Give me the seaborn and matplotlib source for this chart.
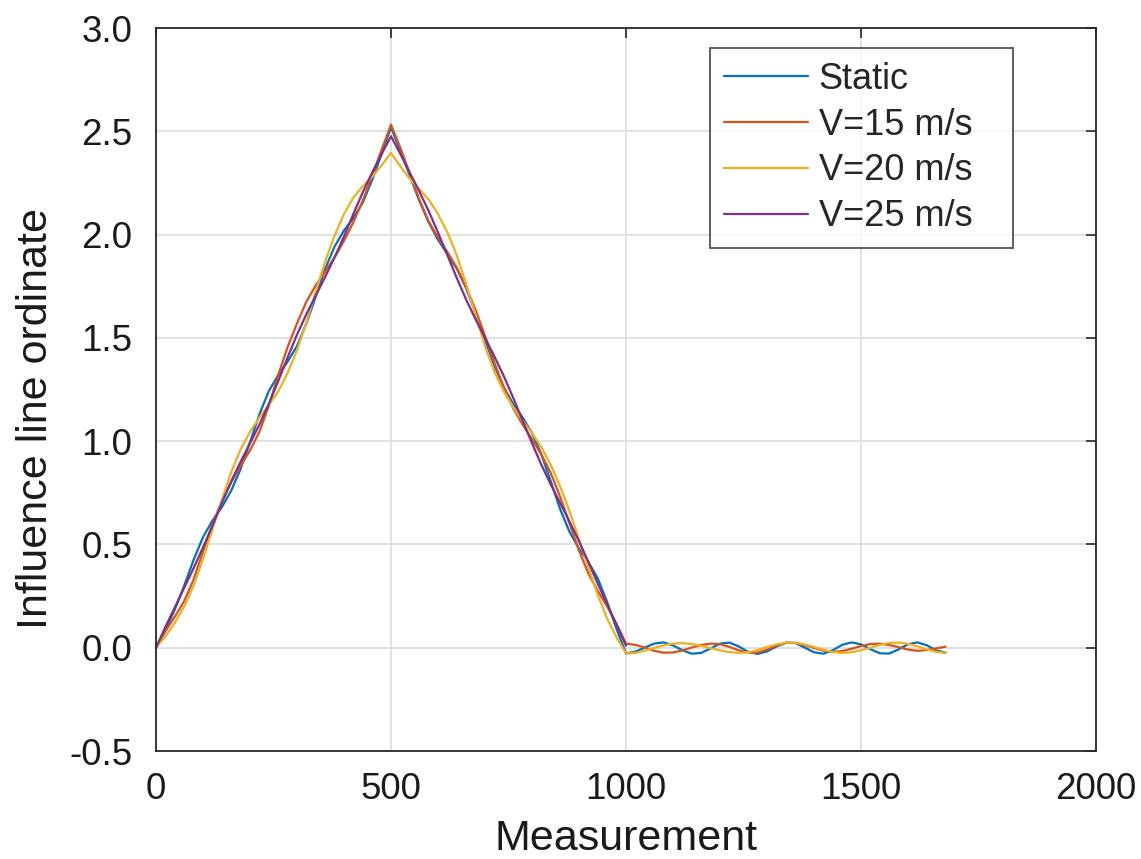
import numpy as np
import pandas as pd
import seaborn as sns
import matplotlib.pyplot as plt

# measurement index (sampled every 20)
x_loaded = list(range(0, 1001, 20))
x_full = list(range(0, 1681, 20))

static = [0.0, 0.085, 0.185, 0.30, 0.425, 0.535, 0.615, 0.68, 0.76, 0.865,
          0.995, 1.13, 1.242, 1.32, 1.385, 1.46, 1.57, 1.70, 1.835, 1.942,
          2.02, 2.08, 2.155, 2.265, 2.39, 2.52,
          2.405, 2.285, 2.165, 2.06, 1.975, 1.905, 1.835, 1.74, 1.62, 1.49,
          1.365, 1.26, 1.18, 1.115, 1.04, 0.935, 0.805, 0.67, 0.56, 0.48,
          0.415, 0.335, 0.22, 0.09, -0.028,
          -0.019, 0.001, 0.020, 0.026, 0.011, -0.012, -0.029, -0.025, -0.003, 0.020,
          0.025, 0.006, -0.020, -0.030, -0.018, 0.006, 0.024, 0.023, 0.001, -0.022,
          -0.029, -0.012, 0.014, 0.026, 0.016, -0.007, -0.027, -0.028, -0.008, 0.017,
          0.026, 0.012, -0.013, -0.024]

v15 = [0.0, 0.08, 0.15, 0.225, 0.33, 0.465, 0.595, 0.71, 0.80, 0.88,
       0.955, 1.045, 1.17, 1.32, 1.455, 1.57, 1.675, 1.755, 1.82, 1.89,
       1.97, 2.06, 2.165, 2.285, 2.41, 2.532,
       2.42, 2.295, 2.17, 2.065, 1.985, 1.915, 1.84, 1.745, 1.635, 1.51,
       1.38, 1.26, 1.16, 1.08, 1.01, 0.935, 0.845, 0.73, 0.60, 0.47,
       0.36, 0.275, 0.20, 0.115, 0.02,
       0.014, 0.001, -0.015, -0.024, -0.023, -0.013, 0.001, 0.013, 0.020, 0.017,
       0.004, -0.013, -0.023, -0.023, -0.009, 0.010, 0.024, 0.023, 0.013, -0.001,
       -0.014, -0.020, -0.016, -0.005, 0.008, 0.018, 0.020, 0.013, 0.003, -0.009,
       -0.015, -0.011, -0.003, 0.005]

v20 = [0.0, 0.055, 0.12, 0.20, 0.30, 0.43, 0.57, 0.715, 0.85, 0.96,
       1.045, 1.115, 1.175, 1.24, 1.33, 1.44, 1.575, 1.725, 1.87, 1.995,
       2.10, 2.18, 2.235, 2.28, 2.335, 2.395,
       2.33, 2.27, 2.22, 2.17, 2.10, 2.01, 1.90, 1.76, 1.61, 1.46,
       1.335, 1.24, 1.165, 1.10, 1.04, 0.97, 0.885, 0.78, 0.66, 0.525,
       0.39, 0.255, 0.14, 0.05, -0.028,
       -0.025, -0.014, -0.001, 0.012, 0.020, 0.022, 0.018, 0.009, -0.002, -0.013,
       -0.021, -0.025, -0.022, -0.011, 0.003, 0.016, 0.024, 0.024, 0.016, 0.004,
       -0.010, -0.021, -0.025, -0.022, -0.012, 0.0, 0.014, 0.023, 0.025, 0.019,
       0.007, -0.008, -0.020, -0.025]

v25 = [0.0, 0.10, 0.195, 0.29, 0.385, 0.485, 0.59, 0.70, 0.805, 0.90,
       0.99, 1.08, 1.18, 1.29, 1.405, 1.515, 1.615, 1.705, 1.795, 1.89,
       1.99, 2.10, 2.205, 2.30, 2.39, 2.476,
       2.39, 2.30, 2.21, 2.115, 2.01, 1.90, 1.79, 1.685, 1.59, 1.50,
       1.41, 1.315, 1.21, 1.10, 0.99, 0.885, 0.79, 0.70, 0.61, 0.515,
       0.415, 0.31, 0.21, 0.11, 0.01]

labels = ['Static', 'V=15 m/s', 'V=20 m/s', 'V=25 m/s']
colors = ['#0072BD', '#D95319', '#EDB120', '#7E2F8E']

frames = []
for lab, xs, ys in zip(labels, [x_full, x_full, x_full, x_loaded], [static, v15, v20, v25]):
    frames.append(pd.DataFrame({'Measurement': xs, 'ordinate': ys, 'series': lab}))
df = pd.concat(frames, ignore_index=True)

sns.set_style('white')
plt.rcParams['font.family'] = ['Liberation Sans', 'DejaVu Sans']

fig = plt.figure(figsize=(11.41, 8.59), dpi=100)
ax = fig.add_axes([0.1367, 0.1257, 0.8239, 0.8417])

sns.lineplot(data=df, x='Measurement', y='ordinate', hue='series', hue_order=labels,
             palette=colors, linewidth=1.6, estimator=None, sort=False, ax=ax)

ax.set_xlim(0, 2000)
ax.set_ylim(-0.5, 3.0)
ax.set_xticks([0, 500, 1000, 1500, 2000])
ax.set_yticks(np.arange(-0.5, 3.01, 0.5))
ax.set_yticklabels([f'{v:.1f}' for v in np.arange(-0.5, 3.01, 0.5)])
ax.grid(True, color='#dcdcdc', linewidth=1.2)
ax.set_axisbelow(True)
ax.tick_params(direction='in', length=7, width=1.2, labelsize=26.5,
               top=True, right=True, colors='#262626', labelcolor='#1a1a1a')
ax.tick_params(axis='y', pad=17)
ax.tick_params(axis='x', pad=15)
for s in ax.spines.values():
    s.set_color('#262626')
    s.set_linewidth(1.3)
ax.set_xlabel('Measurement', fontsize=31, color='#1a1a1a', labelpad=9)
ax.set_ylabel('Influence line ordinate', fontsize=31, color='#1a1a1a')
ax.yaxis.set_label_coords(-0.106, 0.46)

handles, labs = ax.get_legend_handles_labels()
leg = ax.legend(handles, labs, loc='upper left', bbox_to_anchor=(0.5894, 0.5, 0.3223, 0.4723),
                mode='expand', borderaxespad=0, fontsize=26, frameon=True, fancybox=False,
                edgecolor='#262626', handlelength=2.33, handletextpad=0.3,
                labelspacing=0.30, borderpad=0.38)
leg.get_frame().set_linewidth(1.3)

fig.savefig('out.png', dpi=100)
